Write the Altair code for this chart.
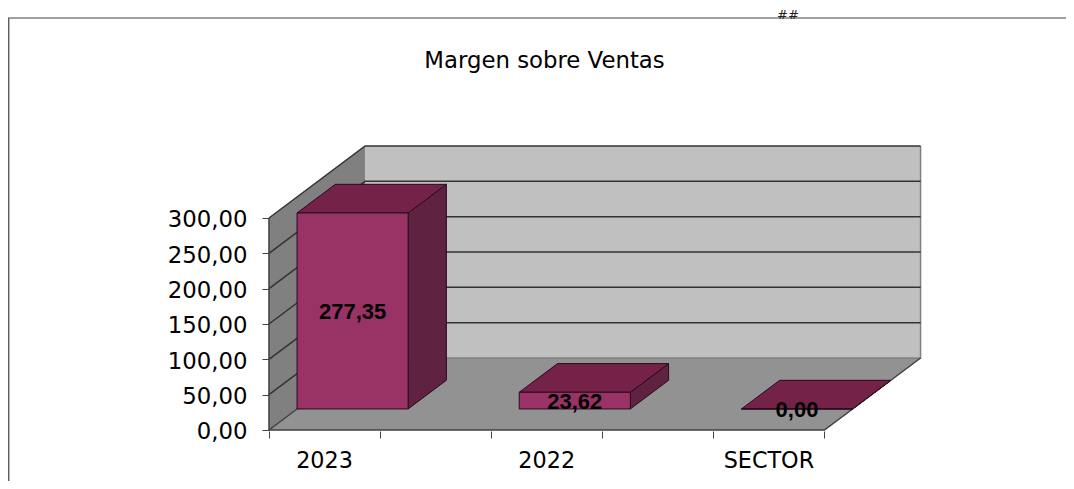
import altair as alt
import pandas as pd

categories = ["2023", "2022", "SECTOR"]
values = [277.35, 23.62, 0.00]
value_labels = ["277,35", "23,62", "0,00"]
slots = [0, 2, 4]
y_ticks = [0, 50, 100, 150, 200, 250, 300]
x_ticks = [0, 1, 2, 3, 4, 5]

# oblique projection: one unit of depth moves a point by these amounts
DX, DV = 0.865, 101.9
D_FRONT, D_BACK = 0.292, 0.69
N = 5
VMAX = 300
W, H = 1058, 467
X_DOMAIN = [-2.349, 7.174]
Y_DOMAIN = [-72.2, 588.7]
x_scale = alt.Scale(domain=X_DOMAIN, nice=False, zero=False)
y_scale = alt.Scale(domain=Y_DOMAIN, nice=False, zero=False)
x_axis = alt.Axis(
    values=x_ticks, labels=False, title=None, grid=False, domain=False,
    tickSize=7, tickColor="#444444", offset=-50, orient="bottom")
y_axis = alt.Axis(
    values=y_ticks, title=None, grid=False, domain=False,
    tickSize=7, tickColor="#444444", offset=-261, orient="left",
    labelExpr="replace(format(datum.value,'.2f'),'.',',')",
    labelFont="DejaVu Sans", labelFontSize=22.8, labelColor="#000000",
    labelPadding=15, labelOffset=2)


def px(c, d=0.0):
    return c + d * DX


def pv(v, d=0.0):
    return v + d * DV


def vert(df, color, stroke=None, sw=1.0):
    kw = {"stroke": stroke, "strokeWidth": sw} if stroke else {}
    return alt.Chart(pd.DataFrame(df)).mark_area(orient="vertical", color=color, **kw).encode(
        x=alt.X("x:Q", scale=x_scale, axis=x_axis),
        y=alt.Y("y:Q", scale=y_scale, axis=y_axis, stack=None),
        y2="y2:Q",
        detail="g:N",
    )


def horiz(df, color, stroke=None, sw=1.0):
    kw = {"stroke": stroke, "strokeWidth": sw} if stroke else {}
    return alt.Chart(pd.DataFrame(df)).mark_area(orient="horizontal", color=color, **kw).encode(
        y=alt.Y("y:Q", scale=y_scale, axis=y_axis),
        x=alt.X("x:Q", scale=x_scale, axis=x_axis, stack=None),
        x2="x2:Q",
        detail="g:N",
    )


def lines(df, color, sw):
    return alt.Chart(pd.DataFrame(df)).mark_line(color=color, strokeWidth=sw).encode(
        x=alt.X("x:Q", scale=x_scale, axis=x_axis),
        y=alt.Y("y:Q", scale=y_scale, axis=y_axis),
        detail="g:N",
        order="o:Q",
    )


# walls
left_wall = vert([
    {"x": px(0, 0), "y": pv(0, 0), "y2": pv(VMAX, 0), "g": "w"},
    {"x": px(0, 1), "y": pv(0, 1), "y2": pv(VMAX, 1), "g": "w"},
], "#808080")
back_wall = vert([
    {"x": px(0, 1), "y": pv(0, 1), "y2": pv(VMAX, 1), "g": "w"},
    {"x": px(N, 1), "y": pv(0, 1), "y2": pv(VMAX, 1), "g": "w"},
], "#C0C0C0")
floor = horiz([
    {"y": pv(0, 0), "x": px(0, 0), "x2": px(N, 0), "g": "f"},
    {"y": pv(0, 1), "x": px(0, 1), "x2": px(N, 1), "g": "f"},
], "#929292")

grid_rows = []
for t in y_ticks:
    grid_rows += [
        {"x": px(0, 0), "y": pv(t, 0), "g": f"g{t}", "o": 0},
        {"x": px(0, 1), "y": pv(t, 1), "g": f"g{t}", "o": 1},
        {"x": px(N, 1), "y": pv(t, 1), "g": f"g{t}", "o": 2},
    ]
grid = lines([r for r in grid_rows if r["g"] != "g0"], "#333333", 1.5)

edges = lines([
    {"x": px(0, 0), "y": pv(0, 0), "g": "a", "o": 0},
    {"x": px(N, 0), "y": pv(0, 0), "g": "a", "o": 1},
    {"x": px(N, 1), "y": pv(0, 1), "g": "a", "o": 2},
    {"x": px(0, 0), "y": pv(0, 0), "g": "b", "o": 0},
    {"x": px(0, 1), "y": pv(0, 1), "g": "b", "o": 1},
    {"x": px(0, 0), "y": pv(0, 0), "g": "c", "o": 0},
    {"x": px(0, 0), "y": pv(VMAX, 0), "g": "c", "o": 1},
], "#404040", 1.5)
back_edges = lines([
    {"x": px(0, 1), "y": pv(0, 1), "g": "d", "o": 0},
    {"x": px(N, 1), "y": pv(0, 1), "g": "d", "o": 1},
    {"x": px(N, 1), "y": pv(VMAX, 1), "g": "d", "o": 2},
], "#808080", 1.5)

# bars
EDGE = "#2B0A20"
side, top, front = [], [], []
for name, s, v in zip(categories, slots, values):
    side += [
        {"x": px(s + 1, D_FRONT), "y": pv(0, D_FRONT), "y2": pv(v, D_FRONT), "g": name},
        {"x": px(s + 1, D_BACK), "y": pv(0, D_BACK), "y2": pv(v, D_BACK), "g": name},
    ]
    top += [
        {"y": pv(v, D_FRONT), "x": px(s, D_FRONT), "x2": px(s + 1, D_FRONT), "g": name},
        {"y": pv(v, D_BACK), "x": px(s, D_BACK), "x2": px(s + 1, D_BACK), "g": name},
    ]
    front += [
        {"x": px(s, D_FRONT), "y": pv(0, D_FRONT), "y2": pv(v, D_FRONT), "g": name},
        {"x": px(s + 1, D_FRONT), "y": pv(0, D_FRONT), "y2": pv(v, D_FRONT), "g": name},
    ]
side_faces = vert(side, "#5F2240", EDGE, 1)
top_faces = horiz(top, "#752248", EDGE, 1)
front_faces = vert(front, "#993366", EDGE, 1)

# value labels
label_df = pd.DataFrame({
    "x": [px(s + 0.5, D_FRONT) for s in slots],
    "y": [pv(v / 2, D_FRONT) for v in values],
    "t": value_labels,
})
value_text = alt.Chart(label_df).mark_text(
    font="Liberation Sans", fontWeight="bold", fontSize=22, color="#000000",
    baseline="middle", dy=1
).encode(
    x=alt.X("x:Q", scale=x_scale, axis=x_axis),
    y=alt.Y("y:Q", scale=y_scale, axis=y_axis),
    text="t:N",
)

# category labels
cat_df = pd.DataFrame({"x": [s + 0.5 for s in slots], "y": [-43.5] * 3, "t": categories})
cat_text = alt.Chart(cat_df).mark_text(
    font="DejaVu Sans", fontSize=22.3, color="#000000", baseline="middle"
).encode(
    x=alt.X("x:Q", scale=x_scale, axis=x_axis),
    y=alt.Y("y:Q", scale=y_scale, axis=y_axis),
    text="t:N",
)

# frame
frame_top = alt.Chart(pd.DataFrame({"a": [0]})).mark_rule(color="#808080", strokeWidth=1.5).encode(
    x=alt.value(0), x2=alt.value(W), y=alt.value(4))
frame_left = alt.Chart(pd.DataFrame({"a": [0]})).mark_rule(color="#606060", strokeWidth=1.5).encode(
    x=alt.value(0.7), y=alt.value(4), y2=alt.value(H))
hash_text = alt.Chart(pd.DataFrame({"t": ["##"]})).mark_text(
    font="DejaVu Sans", fontStyle="italic", fontSize=13, color="#222222", baseline="middle"
).encode(x=alt.value(780), y=alt.value(1), text="t:N")

chart = alt.layer(
    left_wall, back_wall, floor, back_edges, grid, edges,
    side_faces, top_faces, front_faces, value_text, cat_text,
    frame_top, frame_left, hash_text,
).properties(
    width=W,
    height=H,
    padding={"left": 0, "right": 0, "top": 6, "bottom": 0},
    autosize=alt.AutoSizeParams(type="none"),
    title=alt.TitleParams(
        "Margen sobre Ventas", font="DejaVu Sans", fontSize=22.8, fontWeight="normal",
        color="#000000", anchor="middle", offset=-64, dx=7.5),
).configure_view(stroke=None)

chart.save("out.html", embed_options={"renderer": "svg", "actions": False})
